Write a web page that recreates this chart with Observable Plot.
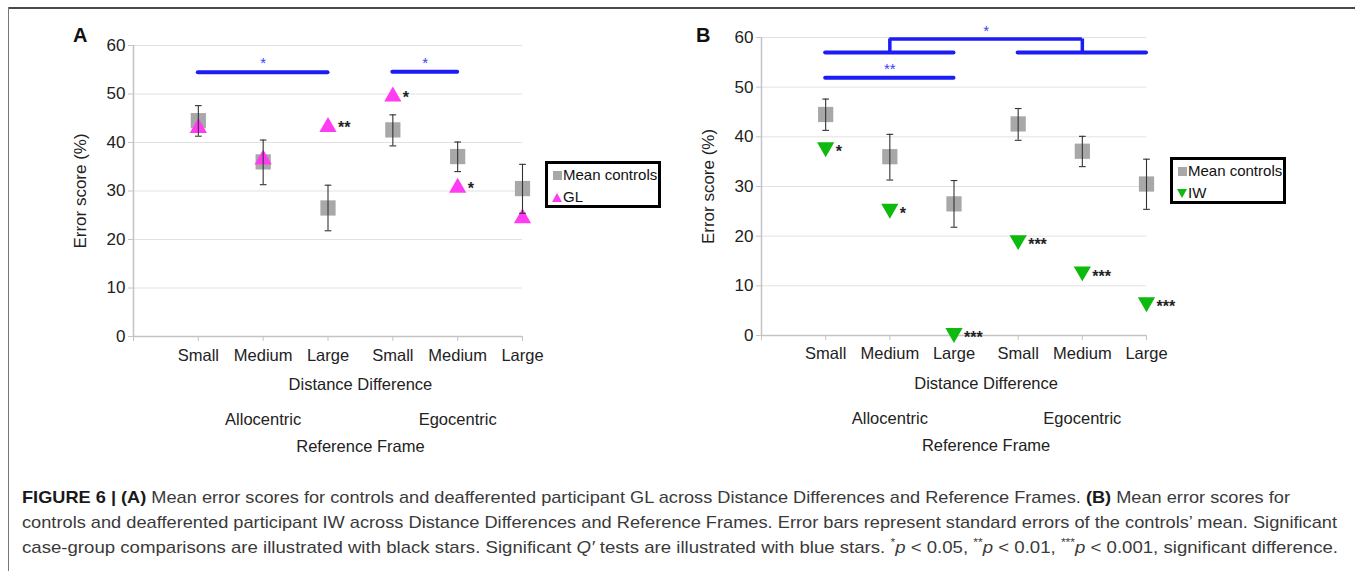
<!DOCTYPE html>
<html>
<head>
<meta charset="utf-8">
<script src="https://cdn.jsdelivr.net/npm/d3@7"></script>
<script src="https://cdn.jsdelivr.net/npm/@observablehq/plot@0.6"></script>
<style>
  html, body { margin: 0; padding: 0; background: #fff; }
  #root { position: relative; width: 1355px; height: 571px; overflow: hidden; font-family: "Liberation Sans", Arial, sans-serif; }
  .frame-top { position: absolute; left: 8px; top: 7px; width: 1347px; height: 0; border-top: 2px solid #4a4a4a; }
  .frame-left { position: absolute; left: 8px; top: 7px; width: 0; height: 564px; border-left: 1px solid #777; }
  .panel { position: absolute; top: 0; }
  .letter { position: absolute; font-weight: bold; font-size: 20px; color: #111; }
  .legend { position: absolute; border: 3px solid #000; background: #fff; font-size: 15px; color: #111; box-sizing: border-box; padding: 0 0 0 4px; line-height: 22px; }
  .legend .row { display: flex; align-items: center; white-space: nowrap; }
  .legend svg { margin-right: 1px; }
  .caption { position: absolute; left: 22px; top: 485px; font-family: "Liberation Sans", Arial, sans-serif; font-size: 17px; color: #3a3a3a; line-height: 25px; }
  .caption div { white-space: nowrap; transform-origin: 0 50%; width: max-content; }
  .caption b { color: #1a1a1a; }
</style>
</head>
<body>
<div id="root">
  <div class="frame-top"></div>
  <div class="frame-left"></div>
</div>
<script>
// ---------- data ----------
const cats = ["Small", "Medium", "Large", "Small", "Medium", "Large"];
const frames = ["Allocentric", "Egocentric"];
const controlMean = [44.5, 36.0, 26.5, 42.6, 37.1, 30.5];
const controlHi   = [47.6, 40.5, 31.2, 45.7, 40.1, 35.5];
const controlLo   = [41.3, 31.3, 21.8, 39.3, 34.0, 25.4];
const glScore = [43.4, 36.9, 43.6, 49.9, 31.1, 24.8];
const glSig   = ["", "", "**", "*", "*", ""];
const iwScore = [37.5, 25.1, 0.1, 18.8, 12.5, 6.3];
const iwSig   = ["*", "*", "***", "***", "***", "***"];
// Q' tests (category index from / to, level in %)
const qAFrom = [1, 4], qATo = [3, 5], qALevel = [54.5, 54.6], qALabel = ["*", "*"];
const qBFrom = [1, 1, 4], qBTo = [3, 3, 6], qBLevel = [51.9, 57.0, 57.0], qBLabel = ["**", "", ""];
const bracketB = {from: 2, to: 5, base: 57.0, level: 59.7, label: "*"};
const yTicks = [0, 10, 20, 30, 40, 50, 60];

const catIdx = cats.map((_, i) => i + 1);
const tickIdx = [0, ...catIdx];
const mid = (1 + cats.length) / 2;

const capSymbol = {draw(ctx, size) { const w = Math.sqrt(size); ctx.moveTo(-w / 2, 0); ctx.lineTo(w / 2, 0); }};

function makePanel(cfg) {
  const {score, sig, color, down, qFrom, qTo, qLevel, qLabel, bracket,
         width, height, mTop, mBottom, mLeft, mRight, tickPad, ylabelOffset} = cfg;
  const qIdx = qFrom.map((_, i) => i);
  const lab = {fontSize: 16.5, fill: "#222", lineAnchor: "middle", textAnchor: "middle"};
  const marks = [
    Plot.gridY(yTicks, {stroke: "#e2e2e2", strokeOpacity: 1}),
    Plot.ruleX([0], {stroke: "#c4c4c4", strokeWidth: 1.5}),
    Plot.ruleY([0], {stroke: "#c4c4c4", strokeWidth: 1.5}),
    Plot.axisY(yTicks, {tickSize: 5, stroke: "#c4c4c4", tickFormat: () => ""}),
    Plot.axisY(yTicks, {tickSize: 0, tickPadding: 8, fontSize: 17, fill: "#222"}),
    Plot.axisX(tickIdx, {tickSize: 5, stroke: "#c4c4c4", tickFormat: () => ""}),
    Plot.axisX(catIdx, {tickSize: 0, tickPadding: tickPad, fontSize: 16.5, fill: "#222", tickFormat: i => cats[i - 1]}),
    Plot.text(["Error score (%)"], {...lab, frameAnchor: "left", rotate: -90, dx: -ylabelOffset, fontSize: 17}),
    Plot.text(["Distance Difference"], {...lab, x: mid, frameAnchor: "bottom", dy: 48}),
    Plot.text(frames, {...lab, x: (d, i) => 2 + 3 * i, frameAnchor: "bottom", dy: 83}),
    Plot.text(["Reference Frame"], {...lab, x: mid, frameAnchor: "bottom", dy: 110}),
    // controls
    Plot.dot(catIdx, {x: d => d, y: (d, i) => controlMean[i], symbol: "square", r: 8.6, fill: "#a8a8a8", stroke: "none"}),
    // participant
    Plot.dot(catIdx, {x: d => d, y: (d, i) => score[i], symbol: "triangle", r: 6.4, fill: color, stroke: "none",
                      rotate: down ? 180 : 0, dy: down ? -2 : 2}),
    // error bars
    Plot.ruleX(catIdx, {x: d => d, y1: (d, i) => controlLo[i], y2: (d, i) => controlHi[i], stroke: "#333", strokeWidth: 1.1}),
    Plot.dot(catIdx, {x: d => d, y: (d, i) => controlHi[i], symbol: capSymbol, r: 3.8, fill: "none", stroke: "#333", strokeWidth: 1.1}),
    Plot.dot(catIdx, {x: d => d, y: (d, i) => controlLo[i], symbol: capSymbol, r: 3.8, fill: "none", stroke: "#333", strokeWidth: 1.1}),
    // case-group stars
    Plot.text(catIdx, {x: d => d, y: (d, i) => score[i], text: (d, i) => sig[i], dx: 10, dy: 3, textAnchor: "start",
                       fontSize: 16, fontWeight: "bold", fill: "#222"}),
    // Q' tests
    Plot.ruleY(qIdx, {x1: i => qFrom[i], x2: i => qTo[i], y: i => qLevel[i], stroke: "#1c1cf5", strokeWidth: 4, strokeLinecap: "round"}),
    Plot.text(qIdx, {x: i => (qFrom[i] + qTo[i]) / 2, y: i => qLevel[i], text: i => qLabel[i], dy: -9, fontSize: 15, fill: "#3c3cff"})
  ];
  if (bracket) {
    marks.push(
      Plot.ruleX([bracket.from, bracket.to], {x: d => d, y1: bracket.base, y2: bracket.level, stroke: "#1c1cf5", strokeWidth: 3.5}),
      Plot.ruleY([bracket.level], {x1: bracket.from, x2: bracket.to, y: d => d, stroke: "#1c1cf5", strokeWidth: 3.5}),
      Plot.text([bracket.label], {x: (bracket.from + bracket.to) / 2, y: bracket.level, dy: -8, fontSize: 15, fill: "#3c3cff"})
    );
  }
  return Plot.plot({
    width, height,
    marginTop: mTop, marginBottom: mBottom, marginLeft: mLeft, marginRight: mRight,
    x: {type: "linear", domain: [0, cats.length], axis: null},
    y: {domain: [0, 60], axis: null},
    style: {fontFamily: "'Liberation Sans', Arial, sans-serif", background: "transparent", overflow: "visible"},
    marks
  });
}

const root = document.getElementById("root");

function place(el, left) {
  const wrap = document.createElement("div");
  wrap.className = "panel";
  wrap.style.left = left + "px";
  wrap.appendChild(el);
  root.appendChild(wrap);
}

const pA = makePanel({score: glScore, sig: glSig, color: "#ff3cf2", down: false,
  qFrom: qAFrom, qTo: qATo, qLevel: qALevel, qLabel: qALabel, bracket: null,
  width: 677, height: 470, mTop: 45, mBottom: 134, mLeft: 133, mRight: 155, tickPad: 13, ylabelOffset: 53});
place(pA, 0);

const pB = makePanel({score: iwScore, sig: iwSig, color: "#0dba0d", down: true,
  qFrom: qBFrom, qTo: qBTo, qLevel: qBLevel, qLabel: qBLabel, bracket: bracketB,
  width: 678, height: 470, mTop: 37, mBottom: 135, mLeft: 84, mRight: 209, tickPad: 12, ylabelOffset: 53});
place(pB, 677);

// letters
for (const [txt, x] of [["A", 73], ["B", 696]]) {
  const d = document.createElement("div");
  d.className = "letter"; d.textContent = txt;
  d.style.left = x + "px"; d.style.top = "24px";
  root.appendChild(d);
}

// legends
function legend(left, top, name, color, down) {
  const d = document.createElement("div");
  d.className = "legend";
  d.style.left = left + "px"; d.style.top = top + "px";
  d.style.width = "116px"; d.style.height = "47px";
  const tri = down ? "M0,1 L10,1 L5,10 Z" : "M0,10 L10,10 L5,1 Z";
  d.innerHTML =
    `<div class="row"><svg width="10" height="10"><rect x="1" y="1" width="9" height="9" fill="#a8a8a8"/></svg>Mean controls</div>` +
    `<div class="row"><svg width="10" height="10"><path d="${tri}" fill="${color}"/></svg>${name}</div>`;
  root.appendChild(d);
}
legend(545, 161, "GL", "#ff3cf2", false);
legend(1170, 157, "IW", "#0dba0d", true);

// caption
const cap = document.createElement("div");
cap.className = "caption";
cap.innerHTML =
  `<div><b>FIGURE 6 | (A)</b> Mean error scores for controls and deafferented participant GL across Distance Differences and Reference Frames. <b>(B)</b> Mean error scores for</div>` +
  `<div>controls and deafferented participant IW across Distance Differences and Reference Frames. Error bars represent standard errors of the controls’ mean. Significant</div>` +
  `<div>case-group comparisons are illustrated with black stars. Significant <i>Q′</i> tests are illustrated with blue stars. <sup style="font-size:11px;line-height:0">*</sup><i>p</i> &lt; 0.05, <sup style="font-size:11px;line-height:0">**</sup><i>p</i> &lt; 0.01, <sup style="font-size:11px;line-height:0">***</sup><i>p</i> &lt; 0.001, significant difference.</div>`;
root.appendChild(cap);
// fit each caption line to the width it takes in the figure
const lineWidths = [1268, 1315, 1316];
cap.querySelectorAll("div").forEach((el, i) => {
  const w = el.getBoundingClientRect().width;
  el.style.transform = `scaleX(${lineWidths[i] / w})`;
});
</script>
</body>
</html>
